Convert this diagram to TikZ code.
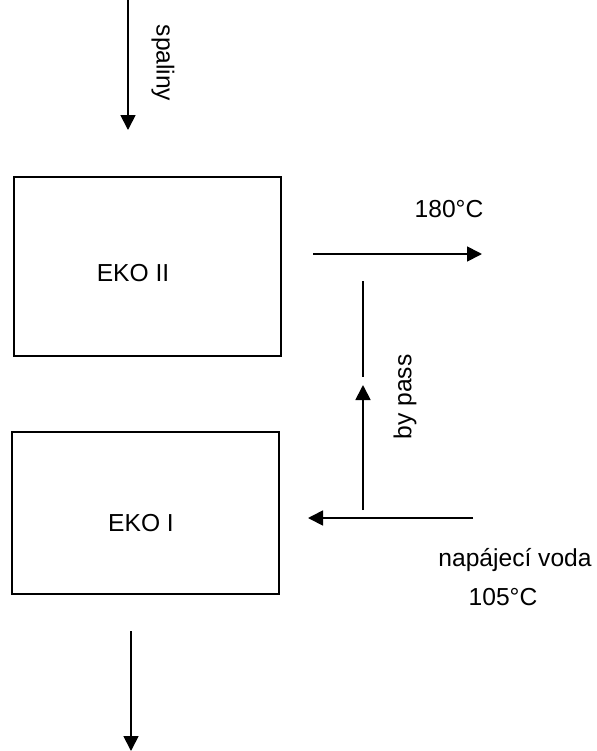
\documentclass[tikz,border=0pt]{standalone}
\usepackage{fontspec}
\setmainfont{Liberation Sans}
\usetikzlibrary{arrows.meta,positioning}

\begin{document}
\begin{tikzpicture}[
  x=0.02cm, y=-0.02cm,
  unit/.style={
    draw,
    line width=1pt,
    minimum width=5.34cm,
    minimum height=3.58cm
  },
  lbl/.style={
    font=\fontsize{14}{17}\selectfont,
    inner sep=0pt
  },
  arrow/.style={-{Triangle[length=0.3cm,width=0.3cm]}, line width=1pt}
]
\useasboundingbox (0,0) rectangle (597,751);
\node[unit] (eko2) at (147.5,266.5) {};
\node[unit, minimum height=3.24cm] (eko1) at (145.5,513) {};
\node[lbl] (eko2txt) at (133,273) {EKO II};
\node[lbl] (eko1txt) at (141,523) {EKO I};
\coordinate (fluein) at (128,0);
\coordinate (fluetip) at (128,130);
\coordinate (flueout) at (131,631);
\coordinate (flueend) at (131,751);
\coordinate (hotstart) at (313,254);
\coordinate (hotend) at (482,254);
\coordinate (bptop) at (363,281);
\coordinate (bpgap) at (363,377);
\coordinate (bptip) at (363,385);
\coordinate (bpstart) at (363,510);
\coordinate (fwstart) at (473,518);
\coordinate (fwtip) at (308,518);
\node[lbl, rotate=-90] (spaliny) at (163,63) {spaliny};
\node[lbl] (hottemp) at (449,209) {180°C};
\node[lbl, rotate=90] (bypass) at (405,397) {by pass};
\node[lbl] (feed) at (515,560) {napájecí voda};
\node[lbl] (feedtemp) at (503,597) {105°C};
\draw[arrow] (fluein) -- (fluetip);
\draw[arrow] (flueout) -- (flueend);
\draw[arrow] (hotstart) -- (hotend);
\draw[line width=1pt] (bptop) -- (bpgap);
\draw[arrow] (bpstart) -- (bptip);
\draw[arrow] (fwstart) -- (fwtip);
\end{tikzpicture}
\end{document}
